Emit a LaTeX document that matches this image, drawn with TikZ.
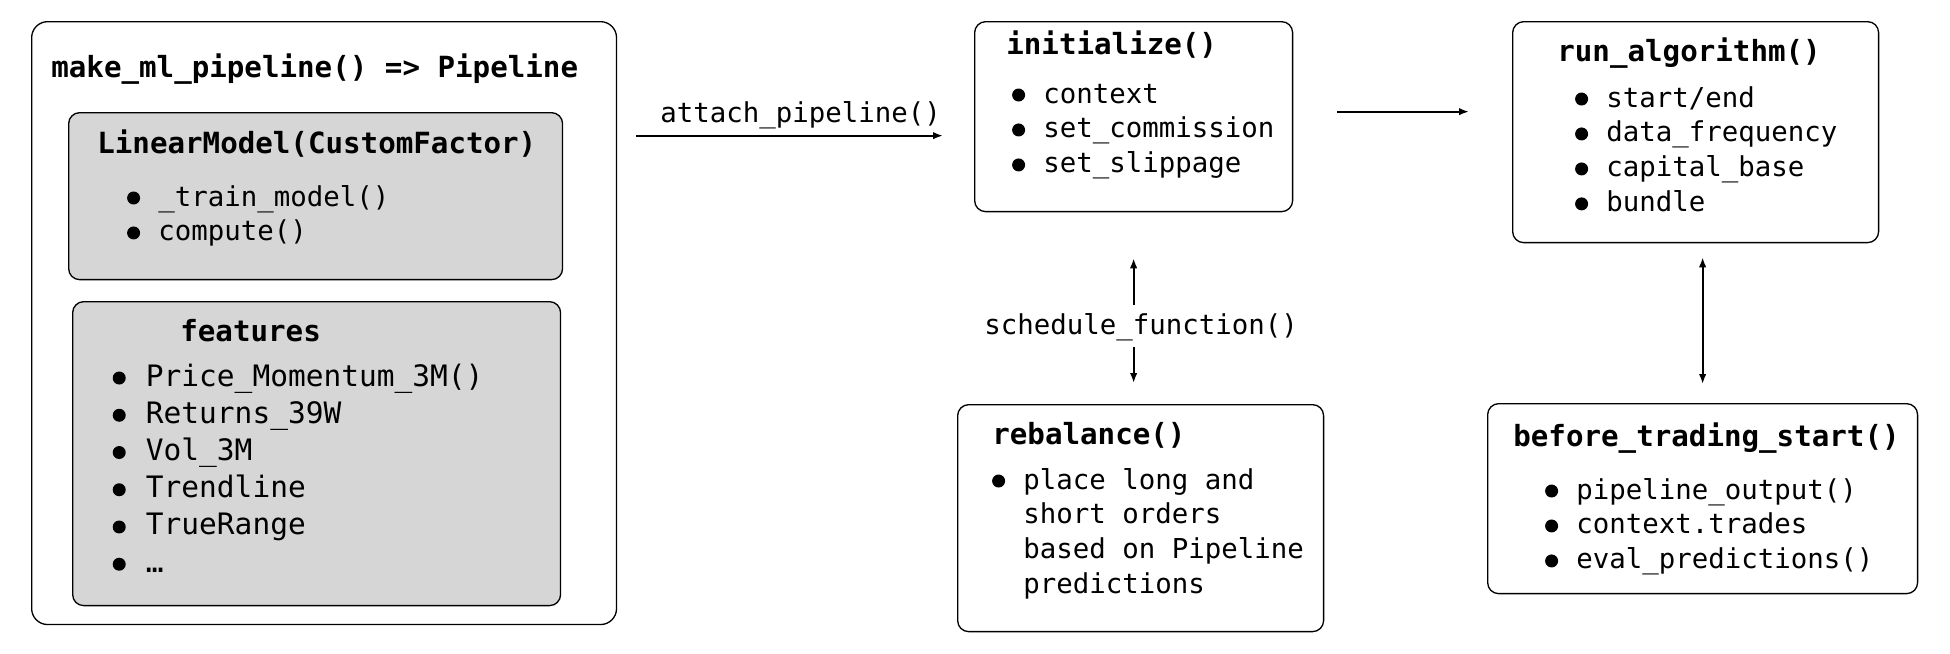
\documentclass[tikz,border=0pt]{standalone}
\usepackage{fontspec}
\setmonofont{DejaVu Sans Mono}
\usetikzlibrary{arrows.meta}

\definecolor{boxgray}{RGB}{214,214,214}

% round bullet in the first of two character cells
\newcommand{\bul}{\makebox[1.204em][l]{\makebox[0.602em]{\tikz[baseline={(0,-0.16cm)}]\fill (0,0) circle (0.13cm);}}}
\newcommand{\ind}{\hspace*{1.204em}}
\newcommand{\itemlist}[1]{\begin{tabular}[t]{@{}l@{}}#1\end{tabular}}

\begin{document}
\begin{tikzpicture}[x=0.02cm, y=-0.02cm,
    box/.style={draw=black, line width=0.75pt, rounded corners=0.22cm, anchor=north west, inner sep=0pt},
    greybox/.style={box, fill=boxgray},
    title/.style={anchor=base west, inner sep=0pt, font=\fontsize{16.6}{20}\selectfont\ttfamily\bfseries},
    txt/.style={anchor=base west, inner sep=0pt, font=\fontsize{15.6}{19.9}\selectfont\ttfamily},
    bigtxt/.style={txt, font=\fontsize{16.8}{21.2}\selectfont\ttfamily},
    arr/.style={line width=1.1pt, -{Latex[length=0.2cm,width=0.15cm]}},
    dblarr/.style={line width=1.1pt, {Latex[length=0.2cm,width=0.15cm]}-{Latex[length=0.2cm,width=0.15cm]}}]
        % \draw[help lines, gray!50, very thin] (0,0) grid[step=100] (1950,653);
        \useasboundingbox (0,0) rectangle (1950,653);

        % left: pipeline factory
        \node[box, rounded corners=0.32cm, minimum width=11.7cm, minimum height=12.06cm] (mlpipe) at (31,21) {};
        \node[title] (mltitle) at (51,77) {make\_ml\_pipeline() => Pipeline};

        \node[greybox, minimum width=9.88cm, minimum height=3.34cm] (linmodel) at (68,112) {};
        \node[title] (lmtitle) at (97,153) {LinearModel(CustomFactor)};
        \node[txt] (lmitems) at (125,206) {\itemlist{\bul\_train\_model()\\ \bul compute()}};

        \node[greybox, minimum width=9.76cm, minimum height=6.08cm] (features) at (72,301) {};
        \node[title] (feattitle) at (180,341) {features};
        \node[bigtxt] (featitems) at (110,386) {\itemlist{\bul Price\_Momentum\_3M()\\ \bul Returns\_39W\\ \bul Vol\_3M\\ \bul Trendline\\ \bul TrueRange\\ \bul …}};

        % middle
        \node[box, minimum width=6.36cm, minimum height=3.8cm] (init) at (974,21) {};
        \node[title] (inittitle) at (1006,54) {initialize()};
        \node[txt] (inititems) at (1010,103) {\itemlist{\bul context\\ \bul set\_commission\\ \bul set\_slippage}};

        \node[box, minimum width=7.32cm, minimum height=4.54cm] (rebal) at (957,404) {};
        \node[title] (rebtitle) at (992,444) {rebalance()};
        \node[txt] (rebitems) at (990,489) {\itemlist{\bul place long and\\ \ind short orders\\ \ind based on Pipeline\\ \ind predictions}};

        % right
        \node[box, minimum width=7.32cm, minimum height=4.42cm] (runalgo) at (1512,21) {};
        \node[title] (runtitle) at (1557,61) {run\_algorithm()};
        \node[txt] (runitems) at (1573,107) {\itemlist{\bul start/end\\ \bul data\_frequency\\ \bul capital\_base\\ \bul bundle}};

        \node[box, minimum width=8.6cm, minimum height=3.8cm] (bts) at (1487,403) {};
        \node[title] (btstitle) at (1513,446) {before\_trading\_start()};
        \node[txt] (btsitems) at (1543,499) {\itemlist{\bul pipeline\_output()\\ \bul context.trades\\ \bul eval\_predictions()}};

        % labels
        \node[txt] (attachlbl) at (660,122) {attach\_pipeline()};
        \node[txt] (schedlbl) at (984,334) {schedule\_function()};

        % arrows
        \coordinate (attachpt) at ([yshift=-0.38cm]init.west);
        \coordinate (initout) at ([yshift=0.1cm]init.east);
        \draw[arr, shorten <=0.38cm, shorten >=0.62cm] (attachpt -| mlpipe.east) -- (attachpt);
        \draw[arr, shorten <=0.88cm, shorten >=0.86cm] (initout) -- (initout -| runalgo.west);
        \draw[arr, shorten <=1.98cm, shorten >=0.92cm] (rebal.north -| init.south) -- (init.south);
        \draw[arr, shorten <=2.7cm, shorten >=0.42cm] (init.south) -- (rebal.north -| init.south);
        \draw[dblarr, shorten <=0.28cm, shorten >=0.38cm] (runalgo.south -| bts.north) -- (bts.north);
      \end{tikzpicture}
\end{document}
